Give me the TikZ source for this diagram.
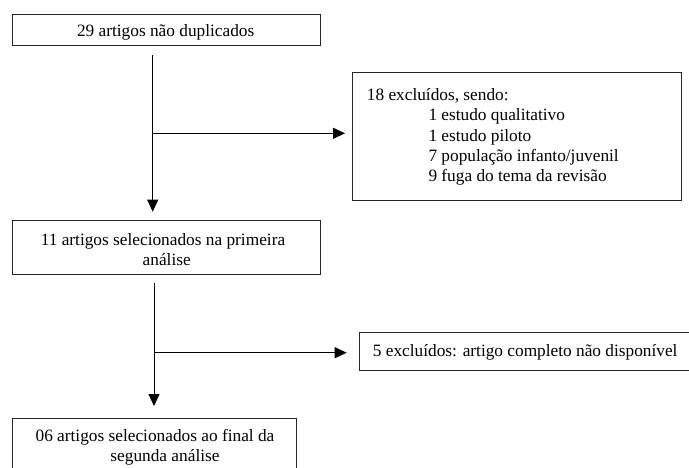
\documentclass[tikz,border=0pt]{standalone}
\usepackage{fontspec}
\setmainfont{Liberation Serif}
\usetikzlibrary{arrows.meta}
\begin{document}
\begin{tikzpicture}[x=1pt,y=-1pt,
  box/.style={draw=black!85,line width=0.8pt,rectangle,inner sep=0pt},
  txt/.style={inner sep=0pt,font=\fontsize{17.3}{20.25}\selectfont},
  arr/.style={draw,line width=0.9pt,-{Triangle[length=12pt,width=11pt]}}]
\useasboundingbox (0,0) rectangle (689,468);
\clip (0,0) rectangle (689,468);
% boxes
\node[box,minimum width=307.7pt,minimum height=31.7pt] (b1) at (166.7,29.85) {};
\node[box,minimum width=328.3pt,minimum height=127.3pt] (b2) at (516.85,136.35) {};
\node[box,minimum width=308pt,minimum height=53.3pt] (b3) at (166.7,247.35) {};
\node[box,minimum width=341pt,minimum height=37.3pt] (b4) at (529.5,351.35) {};
\node[box,minimum width=284pt,minimum height=61.7pt] (b5) at (154.7,449.15) {};
% texts
\node[txt,anchor=base] (t1) at (165.7,36.7) {29 artigos não duplicados};
\node[txt,anchor=base west] (t2a) at (366.7,100.7) {18 excluídos, sendo:};
\node[txt,anchor=base west] (t2b) at (428.3,121) {1 estudo qualitativo};
\node[txt,anchor=base west] (t2c) at (428.3,141.2) {1 estudo piloto};
\node[txt,anchor=base west] (t2d) at (428.3,161.5) {7 população infanto/juvenil};
\node[txt,anchor=base west] (t2e) at (428.3,181.7) {9 fuga do tema da revisão};
\node[txt,anchor=base] (t3a) at (163,245.7) {11 artigos selecionados na primeira};
\node[txt,anchor=base] (t3b) at (166.7,265.7) {análise};
\node[txt,anchor=base west] (t4) at (372.7,356) {5 excluídos: artigo completo não disponível};
\node[txt,anchor=base] (t5a) at (155,441) {06 artigos selecionados ao final da};
\node[txt,anchor=base] (t5b) at (165,461) {segunda análise};
% connectors
\coordinate (c1s) at (152.7,55);
\coordinate (c1e) at (152.7,211.7);
\coordinate (j1) at (152.7,133.3);
\coordinate (a1) at (345,133.3);
\coordinate (c2s) at (154,283.3);
\coordinate (c2e) at (154,406);
\coordinate (j2) at (154,352.7);
\coordinate (a2) at (346.7,352.7);
\draw[arr] (c1s) -- (c1e);
\draw[arr] (j1) -- (a1);
\draw[arr] (c2s) -- (c2e);
\draw[arr] (j2) -- (a2);
\end{tikzpicture}
\end{document}
